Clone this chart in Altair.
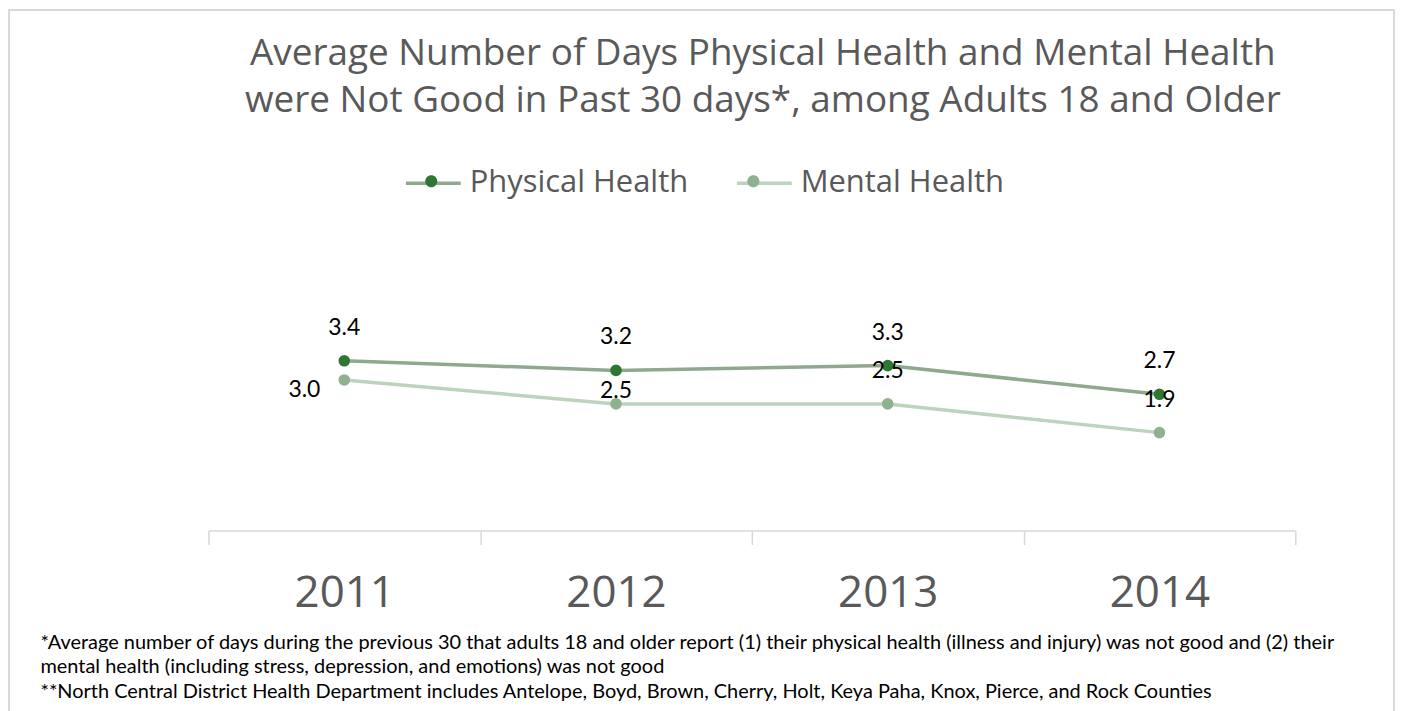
import altair as alt
import pandas as pd

years = ["2011", "2012", "2013", "2014"]
series = ["Physical Health", "Mental Health"]
physical = [3.4, 3.2, 3.3, 2.7]
mental = [3.0, 2.5, 2.5, 1.9]

title_lines = [
    "Average Number of Days Physical Health and Mental Health",
    "were Not Good in Past 30 days*, among Adults 18 and Older",
]
footnotes = [
    "*Average number of days during the previous 30 that adults 18 and older report (1) their physical health (illness and injury) was not good and (2) their",
    "mental health (including stress, depression, and emotions) was not good",
    "\u00a0**North Central District Health Department includes Antelope, Boyd, Brown, Cherry, Holt, Keya Paha, Knox, Pierce, and Rock Counties",
]

line_colors = ["#8FA98F", "#BDD3BD"]
dot_colors = ["#2E7732", "#8FB18F"]

rows = []
for name, vals in zip(series, [physical, mental]):
    for y, v in zip(years, vals):
        rows.append({"year": y, "series": name, "series_b": name, "value": v, "label": f"{v:.1f}"})
df = pd.DataFrame(rows)

x_enc = alt.X(
    "year:N",
    sort=years,
    scale=alt.Scale(type="band", paddingInner=0, paddingOuter=0),
    axis=alt.Axis(
        labelFont="Open Sans", labelFontSize=44, labelColor="#595959", labelAngle=0,
        labelPadding=27, domainColor="#D9D9D9", domainWidth=1.5, tickColor="#D9D9D9",
        tickWidth=1.5, tickSize=14, tickBand="extent", offset=7, grid=False,
        title=footnotes, titleFont="Lato", titleFontSize=20, titleFontWeight="normal",
        titleColor="#000000", titleAlign="left", titleBaseline="top", titleAngle=0,
        titleX=-169, titleY=102, titleLineHeight=24.5, titleLimit=1400,
    ),
)
y_enc = alt.Y("value:Q", scale=alt.Scale(domain=[0, 6]), axis=None)

base = alt.Chart(df).encode(x=x_enc, y=y_enc)

legend_common = dict(
    orient="none", legendX=196, legendY=-83, direction="horizontal", title=None,
    padding=0, labelFont="Open Sans", labelFontSize=31, labelOffset=7, labelLimit=500,
    columnPadding=41, symbolSize=3025,
)

lines = base.mark_line(strokeWidth=3.5).encode(
    stroke=alt.Stroke(
        "series:N",
        scale=alt.Scale(domain=series, range=line_colors),
        legend=alt.Legend(symbolType="stroke", symbolStrokeWidth=3.5,
                          labelColor="#595959", **legend_common),
    ),
    detail="series:N",
)

circle_path = "M -0.22 0 A 0.22 0.22 0 1 1 0.22 0 A 0.22 0.22 0 1 1 -0.22 0 Z"
points = base.mark_circle(size=135, opacity=1).encode(
    fill=alt.Fill(
        "series_b:N",
        sort=series,
        scale=alt.Scale(range=dot_colors),
        legend=alt.Legend(symbolType=circle_path, symbolStrokeWidth=0, symbolOpacity=1,
                          labelOpacity=0, labelColor="#595959", **legend_common),
    ),
)

text_style = dict(font="Lato", fontSize=23, color="#000000")
lab_phys = base.mark_text(dy=-33, **text_style).encode(text="label:N").transform_filter(
    alt.datum.series == "Physical Health")
lab_m1 = base.mark_text(dx=-40, dy=10, **text_style).encode(text="label:N").transform_filter(
    (alt.datum.series == "Mental Health") & (alt.datum.year == "2011"))
lab_m2 = base.mark_text(dy=-13, **text_style).encode(text="label:N").transform_filter(
    (alt.datum.series == "Mental Health") & (alt.datum.year == "2012"))
lab_m3 = base.mark_text(dy=-33, **text_style).encode(text="label:N").transform_filter(
    (alt.datum.series == "Mental Health") & ((alt.datum.year == "2013") | (alt.datum.year == "2014")))

frame = alt.Chart(pd.DataFrame({"f": [0]})).mark_rect(
    filled=False, stroke="#D9D9D9", strokeWidth=2
).encode(x=alt.value(-200), x2=alt.value(1189), y=alt.value(-227), y2=alt.value(490))

chart = alt.layer(frame, lines, points, lab_phys, lab_m1, lab_m2, lab_m3).properties(
    width=1090,
    height=288,
    padding={"left": 201, "top": 228, "right": 100, "bottom": 204},
    autosize=alt.AutoSizeParams(type="none"),
    title=alt.TitleParams(
        text=title_lines, font="Open Sans", fontSize=37, fontWeight="normal",
        color="#595959", anchor="middle", lineHeight=47, offset=-111, dx=11,
    ),
).configure(background="white").configure_view(stroke=None)

chart.save("out.html", embed_options={"renderer": "svg", "actions": False})
